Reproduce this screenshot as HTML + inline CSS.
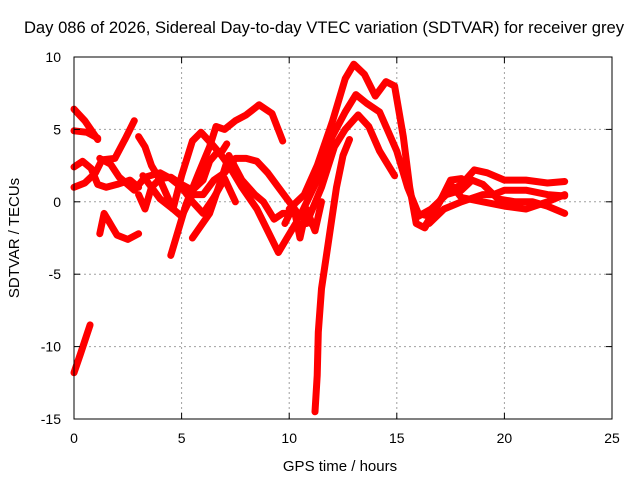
<!DOCTYPE html>
<html><head><meta charset="utf-8"><style>
body{margin:0;background:#fff}
svg{display:block;font-family:"Liberation Sans",sans-serif}
</style></head><body>
<svg id="chart" width="640" height="480" xmlns="http://www.w3.org/2000/svg">
<rect width="640" height="480" fill="#fff"/>
<text x="324" y="33" font-size="16.6" text-anchor="middle">Day 086 of 2026, Sidereal Day-to-day VTEC variation (SDTVAR) for receiver grey</text>
<g id="grid"></g>
<g id="series"></g>
<rect x="74" y="57" width="538" height="362" fill="none" stroke="#000" stroke-width="1"/>
<g id="ticks"></g>
<text x="340" y="471" font-size="15" text-anchor="middle">GPS time / hours</text>
<text transform="translate(19,238) rotate(-90)" font-size="15" text-anchor="middle">SDTVAR / TECUs</text>
</svg>
<script>
const xTicks=[0,5,10,15,20,25];
const yTicks=[10,5,0,-5,-10,-15];
const s1=[[0,6.4],[0.5,5.6],[1.1,4.3]];
const s2=[[0,4.9],[0.6,4.8],[1.1,4.4]];
const s3=[[0,-11.8],[0.3,-10.5],[0.75,-8.5]];
const s4=[[0,2.4],[0.4,2.8],[0.8,2.3],[1.1,1.2],[1.5,1.0],[2.0,1.2],[2.6,1.5],[3.0,1.0]];
const s5=[[0,1.0],[0.5,1.3],[1.0,2.0],[1.3,2.9],[1.9,3.0],[2.4,4.4],[2.8,5.6]];
const s6=[[1.2,3.0],[1.7,2.6],[2.1,1.7],[2.8,0.8],[3.3,1.7],[4.0,2.0],[4.5,1.6],[5.0,1.0],[5.5,0.0],[6.0,-0.8],[6.5,0.3],[7.0,1.6],[7.5,0.0]];
const s7=[[1.2,-2.2],[1.4,-0.8],[1.6,-1.3],[1.8,-1.8],[2.0,-2.3],[2.5,-2.6],[3.0,-2.2]];
const s8=[[3.0,4.5],[3.3,3.8],[3.6,2.5],[4.0,1.5],[4.3,0.5],[4.6,-0.5],[5.0,-1.0],[5.5,0.5],[6.0,0.5],[6.5,1.5],[7.0,2.0],[7.5,3],[8,3],[8.5,2.8],[9,2.0],[9.5,1.0],[10,0],[10.5,-1],[11,-1.5]];
const s9=[[3.0,0.5],[3.3,-0.5],[3.6,1.0],[4.0,1.6],[4.5,1.7],[5,1.2],[5.5,0.8],[6,1.5],[6.3,2.8],[6.7,3.5],[7.2,2.5],[7.8,1.0],[8.5,-0.5],[9.0,-2],[9.5,-3.5],[9.9,-2.5],[10.3,-1.5]];
const s10=[[4.5,-3.7],[5.2,-0.2],[5.8,2],[6.3,3.8],[6.6,5.2],[7,5.0],[7.5,5.6],[8,6],[8.6,6.7],[9.2,6.1],[9.7,4.2]];
const s11=[[3.2,1.8],[4,0.2],[4.6,-0.5],[5,1.8],[5.5,4.2],[5.9,4.8],[6.4,4.0],[6.8,3.3],[7.1,4.0]];
const s12=[[5.5,-2.5],[6.3,-0.8],[6.9,1.8],[7.2,3.2],[7.8,1.5],[8.4,0.5],[8.8,0],[9.3,-1.2],[9.7,-0.8],[10.3,-0.8]];
const s13=[[10,-0.5],[10.7,0.5],[11.3,2.5],[12,5.5],[12.6,8.5],[13,9.5],[13.5,8.8],[14,7.3],[14.5,8.3],[14.9,8.0],[15.3,4.5],[15.6,1],[15.9,-1.5],[16.3,-1.8],[17,0],[17.5,1.5],[18,1.6]];
const s14=[[10.5,-1],[11.3,1.5],[12,4.5],[12.6,6.2],[13.1,7.4],[13.6,6.8],[14.2,6.2],[15,3.5],[15.5,1],[16,-0.8],[16.5,-1],[17.2,0.5],[18,1.2],[18.6,2.2],[19.2,2.0],[20,1.5],[21,1.5],[22,1.3],[22.8,1.4]];
const s15=[[10.8,-1.5],[11.5,1],[12.1,3.8],[12.6,5],[13.2,6],[13.7,5.2],[14.2,3.5],[14.9,1.8]];
const s16=[[11.2,-14.5],[11.3,-12],[11.35,-9],[11.5,-6],[11.7,-4],[12.0,-1],[12.2,1],[12.5,3.2],[12.8,4.3]];
const s17=[[16,-1],[16.6,-0.5],[17.3,0.5],[18,0.8],[18.5,1.5],[19,1.2],[19.7,0.2],[20.5,0],[21.3,0],[22,-0.3],[22.8,-0.8]];
const s18=[[16.5,-1.5],[17.2,-0.5],[18,0],[19,0.5],[19.5,0.5],[20,0.8],[21,0.8],[22,0.5],[22.8,0.4]];
const s19=[[16.3,-1.7],[17,0],[17.5,1.2],[18,0.3],[19,0],[20,-0.3],[21,-0.5],[22,0],[22.8,0.5]];
const s20=[[9.8,-1.5],[10.2,-0.3],[10.5,-2.5],[10.8,-0.5],[11.2,-2],[11.5,0]];
const allSeries=[s1,s2,s3,s4,s5,s6,s7,s8,s9,s10,s11,s12,s13,s14,s15,s16,s17,s18,s19,s20];

const NS='http://www.w3.org/2000/svg';
const X0=74,X1=612,Y0=57,Y1=419,XMIN=0,XMAX=25,YMIN=-15,YMAX=10;
const sx=v=>X0+(v-XMIN)/(XMAX-XMIN)*(X1-X0);
const sy=v=>Y1-(v-YMIN)/(YMAX-YMIN)*(Y1-Y0);
const grid=document.getElementById('grid'),ticks=document.getElementById('ticks'),ser=document.getElementById('series');
function mk(tag,attrs,parent){const e=document.createElementNS(NS,tag);for(const k in attrs)e.setAttribute(k,attrs[k]);parent.appendChild(e);return e;}
xTicks.forEach(t=>{
  const x=sx(t);
  if(t>XMIN&&t<XMAX){const g=mk('line',{x1:x,x2:x,y1:Y0,y2:Y1,stroke:'#a0a0a0','stroke-dasharray':'2,3'},grid);
  
  }
  const a=mk('line',{x1:x,x2:x,y1:Y1,y2:Y1-6,stroke:'#000'},ticks);
  
  
  mk('line',{x1:x,x2:x,y1:Y0,y2:Y0+6,stroke:'#000'},ticks);
  const l=mk('text',{x:x,y:443,'font-size':14,'text-anchor':'middle'},ticks);l.textContent=t;
  
  
});
yTicks.forEach(t=>{
  const y=sy(t);
  if(t>YMIN&&t<YMAX){const g=mk('line',{x1:X0,x2:X1,y1:y,y2:y,stroke:'#a0a0a0','stroke-dasharray':'2,3'},grid);
  
  }
  const a=mk('line',{x1:X0,x2:X0+6,y1:y,y2:y,stroke:'#000'},ticks);
  
  
  mk('line',{x1:X1,x2:X1-6,y1:y,y2:y,stroke:'#000'},ticks);
  const l=mk('text',{x:61,y:y+5,'font-size':14,'text-anchor':'end'},ticks);l.textContent=t;
  
  
});
allSeries.forEach((s,i)=>{
  const d=s.map((p,j)=>(j?'L':'M')+sx(p[0]).toFixed(1)+','+sy(p[1]).toFixed(1)).join(' ');
  const p=mk('path',{d:d,fill:'none',stroke:'#ff0000','stroke-width':7,'stroke-linejoin':'round','stroke-linecap':'round'},ser);
  
  
});
</script>
</body></html>
